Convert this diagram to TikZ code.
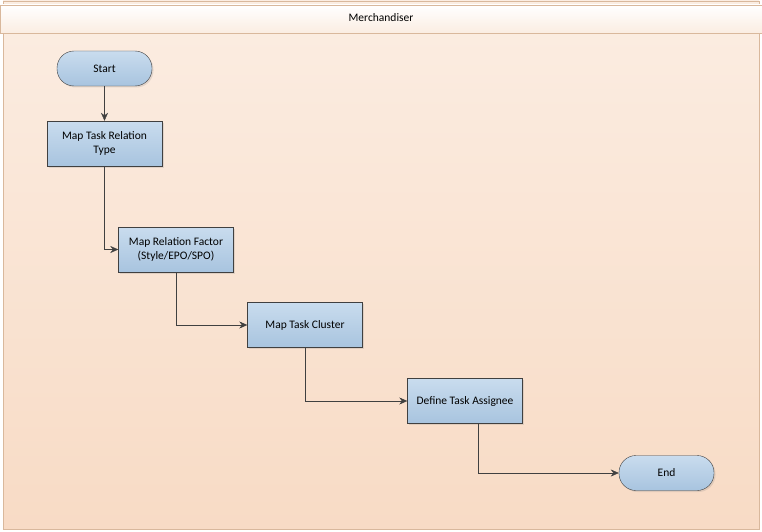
\documentclass[tikz,border=0pt]{standalone}
\usepackage{fontspec}
\setmainfont{Carlito}
\usepackage{tikz}
\usetikzlibrary{arrows.meta,calc,shadows}

\definecolor{laneline}{HTML}{D9B89C}
\definecolor{lanetop}{HTML}{FBEDE2}
\definecolor{lanebot}{HTML}{F8DBC5}
\definecolor{boxtop}{HTML}{C9DCEE}
\definecolor{boxbot}{HTML}{A8C4DF}
\definecolor{boxline}{HTML}{404040}

\tikzset{
  task/.style={rectangle, draw=boxline, top color=boxtop, bottom color=boxbot,
    minimum width=115pt, minimum height=45pt, align=center, inner sep=2pt,
    font=\fontsize{11.5}{14}\selectfont,
    drop shadow={opacity=0.2, shadow xshift=1.5pt, shadow yshift=-1.5pt}},
  term/.style={task, rounded corners=17pt, minimum width=95pt, minimum height=35pt},
  flow/.style={draw=boxline, -{Stealth[length=8pt,width=7pt]}}
}

\begin{document}
\begin{tikzpicture}[x={(1pt,0)}, y={(0,-1pt)}]
            \useasboundingbox (0,0) rectangle (762,532);

            % swimlane
            \shade[top color=lanetop, bottom color=lanebot] (3,1) rectangle (759,529);
            \draw[laneline] (3,1) rectangle (759,529);
            \shade[draw=laneline, top color=white, bottom color=lanetop] (0,5) rectangle (762,33);
            \node[font=\fontsize{11.5}{14}\selectfont] (lane) at (381,18) {Merchandiser};

            \node[term] (start) at (104.5,68.5) {Start};
            \node[task] (relType) at (104.5,143.5) {Map Task Relation\\Type};
            \node[task] (relFactor) at (176,249.5) {Map Relation Factor\\(Style/EPO/SPO)};
            \node[task] (cluster) at (305,325) {Map Task Cluster};
            \node[task] (assignee) at (465,401) {Define Task Assignee};
            \node[term] (end) at (666.5,473) {End};

            \draw[flow] (start) -- (relType);
            \draw[flow] (relType.south) |- (relFactor.west);
            \draw[flow] (relFactor.south) |- (cluster.west);
            \draw[flow] (cluster.south) |- (assignee.west);
            \draw[flow] ($(assignee.south)+(13,0)$) |- (end.west);
        \end{tikzpicture}
\end{document}
